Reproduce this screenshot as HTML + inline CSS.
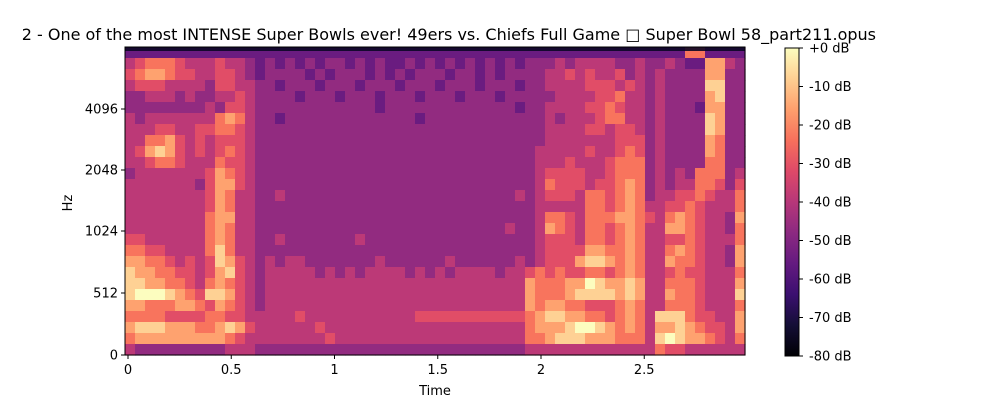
<!DOCTYPE html>
<html><head><meta charset="utf-8"><style>
html,body{margin:0;padding:0;background:#fff;width:1000px;height:400px;overflow:hidden}
text{font-family:"DejaVu Sans","Liberation Sans",sans-serif;fill:#000}
</style></head><body>
<svg id="chart" width="1000" height="400" xmlns="http://www.w3.org/2000/svg">
<g id="cells"></g>
<g id="axes"></g>
</svg>
<script>
// spectrogram levels (0..9), rows top (high freq) to bottom
const rowsA = ["22222222222222","45666544454432","56776554455432","45554444355443","33444343344543","33333333435543","43444444467643","44455445566543","44667545455543","45787545456543","44566544465543","34444444576543","44444443577543","44444444576443","44444444576443","44444444677443","44444444676443","55444444676443","66554444686443","77665454587543","87766554578543","88776654676543","89998765887543","77666776576543","66665555665544","78887776678754","67777777776544","43333333334443"];
const rowsB = ["22222222222222222222222222","32323233232322323232323232","33332323332323233323323233","32333233323332333233323332","33323332333233323332333233","33333333333233333333333332","32333333333333323333333333","33333333333333333333333333","33333333333333333333333333","33333333333333333333333333","33333333333333333333333333","33333333333333333333333333","33333333333333333333333333","34333333333333333333333334","33333333333333333333333333","33333333333333333333333333","33333333333333333333333343","34333333343333333333333333","33333333333333333333333333","43443333333433333343333334","44444343434444343434444344","44444444444444444444444444","44444444444444444444444444","44444444444444444444444444","44454444444444455555555555","44444544444444444444444444","44444454444444444444444444","33333333333333333333333333"];
const rowsC = ["2222222222222222662222","3334344443343343227743","3344545445343433337733","3344445554543433338833","3334444556443433337833","3344445565443433327733","3343444566443433338733","3344445545543433338733","3344444445553433337633","3444445445653433337633","3444544456663433336633","3455554456663434366634","3465554556763434466535","3455546656763445565446","3444446656764455654446","3466546667765467654437","3476546656764477654436","3455546656764455654446","3455557766764467654437","3455578876764476654437","5656556656764456554446","7666779877874466654447","7666788887874476654448","7677665556764466654446","6788776656764888655447","6777899876764778765547","6678887776664898776546","4444444444444655444444"];
const timeTicks = [0, 0.5, 1, 1.5, 2, 2.5];
const timeTickLabels = ["0","0.5","1","1.5","2","2.5"];
const hzTicks = [0, 512, 1024, 2048, 4096];
const hzTickLabels = ["0","512","1024","2048","4096"];
const dbTicks = [0,-10,-20,-30,-40,-50,-60,-70,-80];
const dbTickLabels = ["+0 dB","-10 dB","-20 dB","-30 dB","-40 dB","-50 dB","-60 dB","-70 dB","-80 dB"];

const NS="http://www.w3.org/2000/svg";
const PL=125, PR=745, PT=47, PB=355;
const magma=[[0,0,4],[20,14,54],[59,15,112],[100,26,128],[140,41,129],[183,55,121],[222,73,104],[247,112,92],[254,159,109],[254,207,146],[252,253,191]];
function cmap(t){t=Math.max(0,Math.min(1,t));const p=t*10,i=Math.min(9,Math.floor(p)),f=p-i;const a=magma[i],b=magma[i+1];return `rgb(${a.map((v,k)=>Math.round(v+(b[k]-v)*f)).join(',')})`;}
function levelToDb(d){return -80+(0.12+d*0.098)*80;}
function xScale(t){return 128+t*206.5;}
// linear below 1024 Hz, log above
function yScale(hz){ if(hz<=1024) return PB-(hz/1024)*124; return 231-Math.log2(hz/1024)*61; }
function el(tag,attrs,parent){const e=document.createElementNS(NS,tag);for(const k in attrs)e.setAttribute(k,attrs[k]);parent.appendChild(e);return e;}

const cells=document.getElementById('cells');
const rows=rowsA.map((r,i)=>r+rowsB[i]+rowsC[i]);
const nR=rows.length,nC=rows[0].length;
const cw=(PR-PL)/nC,ch=(PB-PT)/nR;
rows.forEach((r,ri)=>{for(let ci=0;ci<nC;ci++){
  const db=levelToDb(+r[ci]);
  const c=el('rect',{x:(PL+ci*cw).toFixed(2),y:(PT+ri*ch).toFixed(2),width:(cw+0.6).toFixed(2),height:(ch+0.6).toFixed(2),fill:cmap((db+80)/80)},cells);
  
  
}});
const topStrip=el('rect',{x:PL,y:PT,width:PR-PL,height:4,fill:'#0c0826',opacity:0.9},cells);



const ax=document.getElementById('axes');
const frame=el('rect',{x:PL,y:PT,width:PR-PL,height:PB-PT,fill:'none',stroke:'#000','stroke-width':1},ax);


timeTicks.forEach((t,i)=>{
  const x=xScale(t);
  const l=el('line',{x1:x,x2:x,y1:PB,y2:PB+4,stroke:'#000'},ax);
  
  
  const tx=el('text',{x:x,y:PB+19,'font-size':13,'text-anchor':'middle'},ax);
  tx.textContent=timeTickLabels[i];
  
  
});
hzTicks.forEach((h,i)=>{
  const y=yScale(h);
  const l=el('line',{x1:PL-4,x2:PL,y1:y,y2:y,stroke:'#000'},ax);
  
  
  const tx=el('text',{x:PL-7,y:y+4.5,'font-size':13,'text-anchor':'end'},ax);
  tx.textContent=hzTickLabels[i];
  
  
});
const xt=el('text',{x:435,y:395,'font-size':13,'text-anchor':'middle'},ax);
xt.textContent='Time';


const yt=el('text',{x:72,y:203,'font-size':13,'text-anchor':'middle',transform:'rotate(-90 72 203)'},ax);
yt.textContent='Hz';


const title=el('text',{x:876,y:40,'font-size':16,'text-anchor':'end'},ax);
title.textContent='2 - One of the most INTENSE Super Bowls ever! 49ers vs. Chiefs Full Game \u25A1 Super Bowl 58_part211.opus';



// colorbar
const CBL=785,CBR=799;
const defs=el('defs',{},document.getElementById('chart'));
const grad=el('linearGradient',{id:'cbg',x1:0,y1:1,x2:0,y2:0},defs);
for(let i=0;i<=10;i++){el('stop',{offset:i/10,'stop-color':cmap(i/10)},grad);}
const cb=el('rect',{x:CBL,y:PT+1,width:CBR-CBL,height:PB-PT,fill:'url(#cbg)',stroke:'#000','stroke-width':1},ax);


dbTicks.forEach((d,i)=>{
  const y=PT+1+(-d/80)*(PB-PT);
  const l=el('line',{x1:CBR,x2:CBR+4,y1:y,y2:y,stroke:'#000'},ax);
  
  
  const tx=el('text',{x:CBR+10,y:y+4.5,'font-size':13},ax);
  tx.textContent=dbTickLabels[i];
  
  
});
</script>
</body></html>
